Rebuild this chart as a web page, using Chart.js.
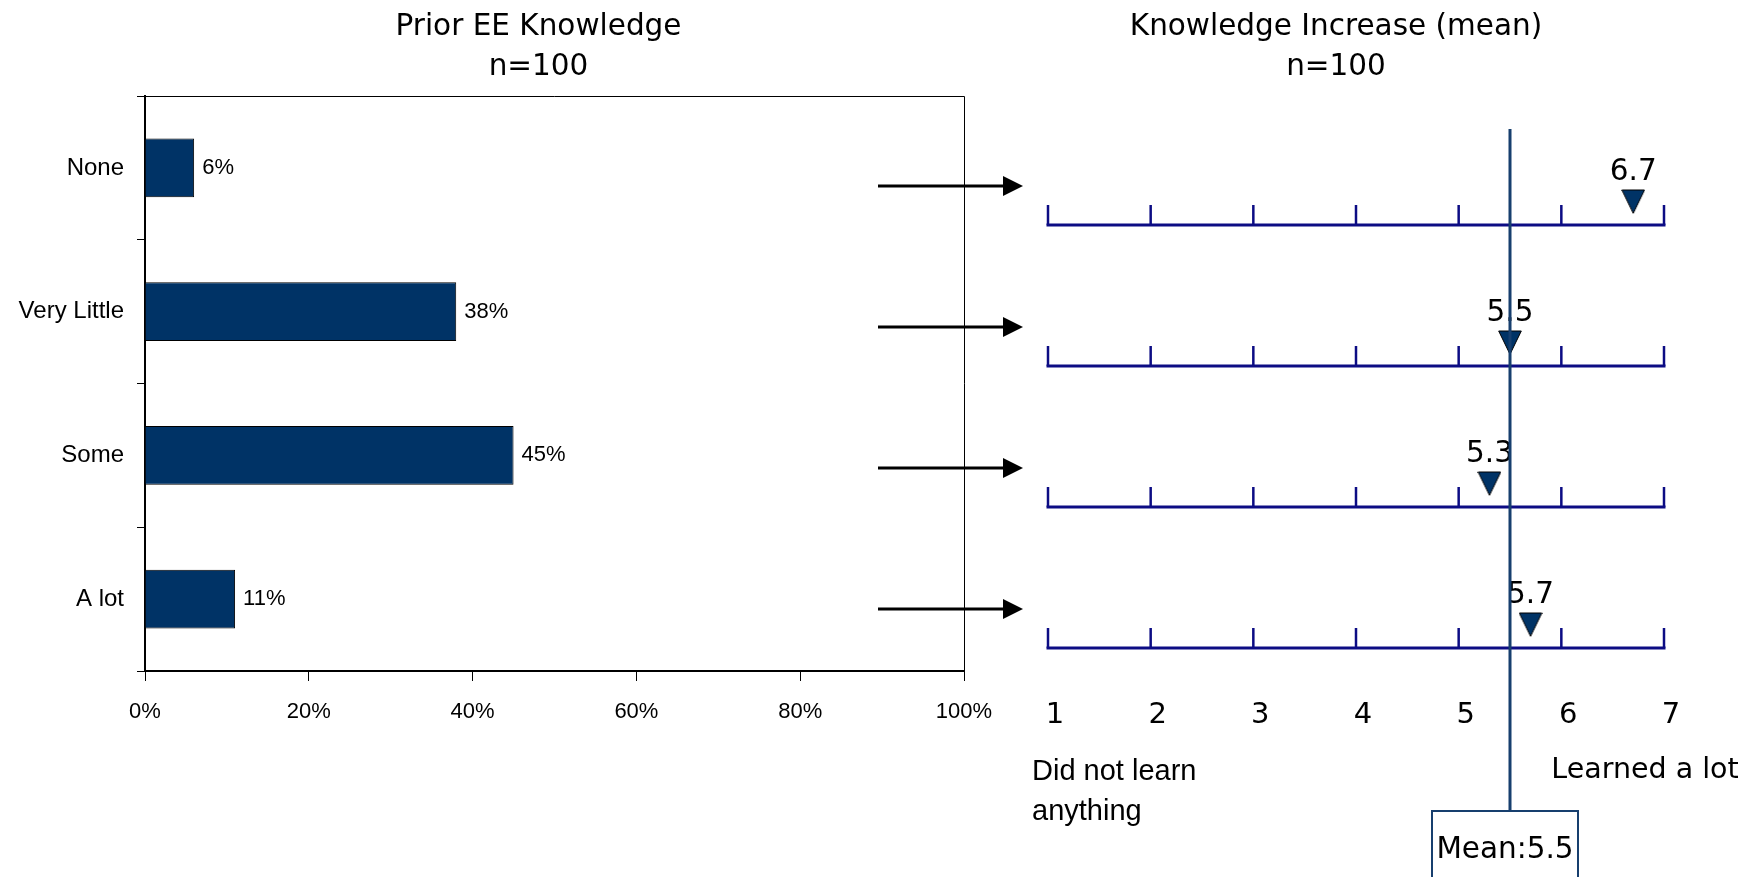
<!DOCTYPE html>
<html>
<head>
<meta charset="utf-8">
<script src="https://cdn.jsdelivr.net/npm/chart.js@4/dist/chart.umd.min.js"></script>
<style>
  html, body { margin:0; padding:0; background:#ffffff; width:1763px; height:877px; overflow:hidden; }
  #left { position:absolute; left:0; top:0; }
  #right { position:absolute; left:860px; top:0; }
</style>
</head>
<body>
<canvas id="left" width="1000" height="877"></canvas>
<canvas id="right" width="903" height="877"></canvas>
<script>
// ---- data ----
const categories = ['None', 'Very Little', 'Some', 'A lot'];
const priorKnowledge = [6, 38, 45, 11];          // percent
const knowledgeIncrease = [6.7, 5.5, 5.3, 5.7];  // mean on 1-7 scale
const overallMean = 5.5;
const percentTicks = [0, 20, 40, 60, 80, 100];
const scaleTicks = [1, 2, 3, 4, 5, 6, 7];
const leftTitle = ['Prior EE Knowledge', 'n=100'];
const rightTitle = ['Knowledge Increase (mean)', 'n=100'];
const lowEndLabel = ['Did not learn', 'anything'];
const highEndLabel = 'Learned a lot';
const meanLabel = 'Mean:';

// ---- styles ----
const F_SANS = '"Liberation Sans", Arial, sans-serif';
const F_WIDE = '"DejaVu Sans", Verdana, sans-serif';
const NAVY = '#003366';
const SCALE_BLUE = '#0c0c84';
const MEAN_BLUE = '#173f6e';

// ---------------- LEFT CHART ----------------
const leftDecor = {
  id: 'leftDecor',
  afterDatasetsDraw(chart) {
    const { ctx } = chart;
    const meta = chart.getDatasetMeta(0);
    ctx.save();
    ctx.font = '22px ' + F_SANS;
    ctx.fillStyle = '#000';
    ctx.textAlign = 'left';
    ctx.textBaseline = 'middle';
    meta.data.forEach((bar, i) => ctx.fillText(priorKnowledge[i] + '%', bar.x + 8, bar.y));
    ctx.restore();
  },
  afterDraw(chart) {
    const { ctx, chartArea: a } = chart;
    ctx.save();
    ctx.strokeStyle = '#000';
    ctx.lineWidth = 1;
    ctx.beginPath();
    ctx.moveTo(a.left, a.top + 0.5);
    ctx.lineTo(a.right + 0.5, a.top + 0.5);
    ctx.lineTo(a.right + 0.5, a.bottom);
    ctx.stroke();
    ctx.font = '29.5px ' + F_WIDE;
    ctx.fillStyle = '#000';
    ctx.textAlign = 'center';
    ctx.textBaseline = 'alphabetic';
    const cx = (a.left + a.right) / 2 - 16;
    ctx.fillText(leftTitle[0], cx, 35);
    ctx.fillText(leftTitle[1], cx, 75);
    ctx.restore();
  }
};

new Chart(document.getElementById('left'), {
  type: 'bar',
  data: {
    labels: categories,
    datasets: [{
      data: priorKnowledge,
      backgroundColor: NAVY,
      borderColor: '#000',
      borderWidth: 1,
      categoryPercentage: 1,
      barPercentage: 0.41
    }]
  },
  options: {
    indexAxis: 'y',
    responsive: false,
    animation: false,
    events: [],
    layout: { padding: { top: 96, right: 36, bottom: 0, left: 0 } },
    plugins: { legend: { display: false }, tooltip: { enabled: false }, title: { display: false } },
    scales: {
      x: {
        min: 0, max: 100,
        afterBuildTicks: s => { s.ticks = percentTicks.map(v => ({ value: v })); },
        ticks: { callback: v => v + '%', color: '#000', font: { family: F_SANS, size: 22 }, padding: 18, maxRotation: 0, autoSkip: false },
        grid: { drawOnChartArea: false, tickLength: 10, color: '#000', lineWidth: 1 },
        border: { color: '#000', width: 2 },
        afterFit: s => { s.height = 206; s.paddingLeft = 0; s.paddingRight = 0; }
      },
      y: {
        ticks: { color: '#000', font: { family: F_SANS, size: 24 }, padding: 13 },
        grid: { offset: true, drawOnChartArea: false, tickLength: 8, color: '#000', lineWidth: 1 },
        border: { color: '#000', width: 2 },
        afterFit: s => { s.width = 145; s.paddingTop = 0; s.paddingBottom = 0; }
      }
    }
  },
  plugins: [leftDecor]
});

// ---------------- RIGHT CHART ----------------
const tri = document.createElement('canvas');
tri.width = 24; tri.height = 72;
(function () {
  const c = tri.getContext('2d');
  c.beginPath();
  c.moveTo(0.7, 1);
  c.lineTo(23.3, 1);
  c.lineTo(12, 24.3);
  c.closePath();
  c.fillStyle = NAVY;
  c.fill();
  c.strokeStyle = '#000';
  c.lineWidth = 1;
  c.stroke();
})();

const rightDecor = {
  id: 'rightDecor',
  beforeDatasetsDraw(chart) {
    const { ctx, chartArea: a, scales: { x, y } } = chart;
    ctx.save();
    // arrows from the left chart
    ctx.fillStyle = '#000';
    ctx.strokeStyle = '#000';
    ctx.lineWidth = 3;
    categories.forEach((c, i) => {
      const yy = y.getPixelForValue(i) - 39;
      const x0 = a.left - 170, x1 = a.left - 25;
      ctx.beginPath(); ctx.moveTo(x0, yy); ctx.lineTo(x1 - 18, yy); ctx.stroke();
      ctx.beginPath(); ctx.moveTo(x1 - 20, yy - 10); ctx.lineTo(x1, yy); ctx.lineTo(x1 - 20, yy + 10); ctx.closePath(); ctx.fill();
    });
    // rating scales
    ctx.strokeStyle = SCALE_BLUE;
    categories.forEach((c, i) => {
      const yy = y.getPixelForValue(i);
      const xa = x.getPixelForValue(scaleTicks[0]);
      const xb = x.getPixelForValue(scaleTicks[scaleTicks.length - 1]);
      ctx.lineWidth = 3;
      ctx.beginPath(); ctx.moveTo(xa - 1.5, yy); ctx.lineTo(xb + 1.5, yy); ctx.stroke();
      ctx.lineWidth = 2.5;
      scaleTicks.forEach(t => {
        const xt = x.getPixelForValue(t);
        ctx.beginPath(); ctx.moveTo(xt, yy); ctx.lineTo(xt, yy - 20); ctx.stroke();
      });
    });
    ctx.restore();
  },
  afterDatasetsDraw(chart) {
    const { ctx, chartArea: a, scales: { x } } = chart;
    const meta = chart.getDatasetMeta(0);
    ctx.save();
    ctx.fillStyle = '#000';
    // values above triangles
    ctx.font = '29.5px ' + F_WIDE;
    ctx.textAlign = 'center';
    ctx.textBaseline = 'alphabetic';
    meta.data.forEach((pt, i) => ctx.fillText(knowledgeIncrease[i].toFixed(1), pt.x, pt.y - 45));
    // mean line and box
    const mx = x.getPixelForValue(overallMean);
    ctx.strokeStyle = MEAN_BLUE;
    ctx.lineWidth = 3;
    ctx.beginPath(); ctx.moveTo(mx, a.top - 96); ctx.lineTo(mx, a.bottom + 163); ctx.stroke();
    ctx.lineWidth = 2;
    ctx.strokeRect(mx - 78, a.bottom + 163, 146, 120);
    ctx.fillText(meanLabel + overallMean.toFixed(1), mx - 5, a.bottom + 210);
    // end labels
    ctx.textAlign = 'left';
    ctx.font = '29px ' + F_SANS;
    ctx.fillText(lowEndLabel[0], a.left - 16, a.bottom + 132);
    ctx.fillText(lowEndLabel[1], a.left - 16, a.bottom + 172);
    ctx.font = '28.5px ' + F_WIDE;
    ctx.fillText(highEndLabel, x.getPixelForValue(6) - 10, a.bottom + 130);
    // title
    ctx.font = '29.5px ' + F_WIDE;
    ctx.textAlign = 'center';
    const cx = (a.left + a.right) / 2 - 20;
    ctx.fillText(rightTitle[0], cx, 35);
    ctx.fillText(rightTitle[1], cx, 75);
    ctx.restore();
  }
};

new Chart(document.getElementById('right'), {
  type: 'scatter',
  data: {
    datasets: [{
      data: knowledgeIncrease.map((v, i) => ({ x: v, y: categories[i] })),
      pointStyle: tri,
      radius: 10,
      clip: false
    }]
  },
  options: {
    responsive: false,
    animation: false,
    events: [],
    layout: { padding: { top: 225, right: 99, bottom: 0, left: 188 } },
    plugins: { legend: { display: false }, tooltip: { enabled: false }, title: { display: false } },
    scales: {
      x: {
        type: 'linear', min: 1, max: 7,
        afterBuildTicks: s => { s.ticks = scaleTicks.map(v => ({ value: v })); },
        ticks: { color: '#000', font: { family: F_WIDE, size: 29 }, padding: 50, labelOffset: 7, autoSkip: false, maxRotation: 0 },
        grid: { display: false, drawTicks: false },
        border: { display: false },
        afterFit: s => { s.height = 229; s.paddingLeft = 0; s.paddingRight = 0; }
      },
      y: {
        type: 'category',
        labels: categories,
        offset: false,
        display: false
      }
    }
  },
  plugins: [rightDecor]
});
</script>
</body>
</html>
